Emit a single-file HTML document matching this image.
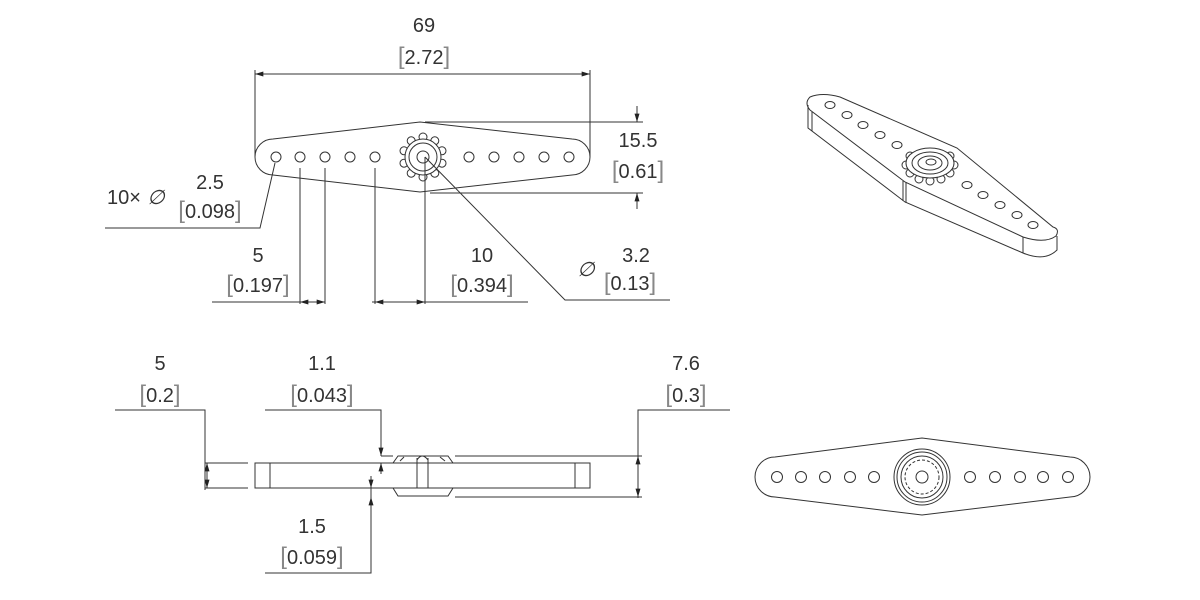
<!DOCTYPE html>
<html><head><meta charset="utf-8"><style>
html,body{margin:0;padding:0;background:#fff;}
svg{display:block;}
text{font-family:"Liberation Sans",sans-serif;font-size:20px;fill:#333;text-anchor:middle;}
.b{fill:#888;font-weight:300;font-size:24px;}
</style></head><body>
<svg width="1200" height="600" viewBox="0 0 1200 600" xmlns="http://www.w3.org/2000/svg">
<defs>
<marker id="a" viewBox="0 0 10 6" refX="10" refY="3" markerWidth="9" markerHeight="5" orient="auto-start-reverse" markerUnits="userSpaceOnUse"><path d="M0,0 L10,3 L0,6z" fill="#222"/></marker>
</defs>
<g stroke="#333" stroke-width="1" fill="none">
<!-- TOP VIEW -->
<path d="M273,139 L420,122 L572,139 A18,18 0 0 1 572,175 L420,192 L273,175 A18,18 0 0 1 273,139Z"/>
<g>
<circle cx="276" cy="157" r="5"/><circle cx="300" cy="157" r="5"/><circle cx="325" cy="157" r="5"/><circle cx="350" cy="157" r="5"/><circle cx="375" cy="157" r="5"/>
<circle cx="469" cy="157" r="5"/><circle cx="494" cy="157" r="5"/><circle cx="519" cy="157" r="5"/><circle cx="544" cy="157" r="5"/><circle cx="569" cy="157" r="5"/>
</g>
<g transform="translate(423,157)" fill="#fff">
<circle cx="0" cy="-20" r="4"/><circle cx="11.8" cy="-16.2" r="4"/><circle cx="19" cy="-6.2" r="4"/><circle cx="19" cy="6.2" r="4"/><circle cx="11.8" cy="16.2" r="4"/><circle cx="0" cy="20" r="4"/><circle cx="-11.8" cy="16.2" r="4"/><circle cx="-19" cy="6.2" r="4"/><circle cx="-19" cy="-6.2" r="4"/><circle cx="-11.8" cy="-16.2" r="4"/>
<circle r="18"/><circle r="14"/><circle r="6"/>
</g>
<!-- 69 dim -->
<line x1="255" y1="70" x2="255" y2="157"/><line x1="590" y1="70" x2="590" y2="157"/>
<line x1="255" y1="74" x2="590" y2="74" marker-start="url(#a)" marker-end="url(#a)"/>
<!-- 15.5 -->
<line x1="425" y1="122" x2="643" y2="122"/><line x1="430" y1="193" x2="643" y2="193"/>
<line x1="637" y1="106" x2="637" y2="122" marker-end="url(#a)"/>
<line x1="637" y1="209" x2="637" y2="193" marker-end="url(#a)"/>
<!-- 10x dia leader -->
<polyline points="105,228 260,228 275,163"/>
<!-- 5 -->
<line x1="300" y1="168" x2="300" y2="304"/><line x1="325" y1="168" x2="325" y2="304"/>
<line x1="212" y1="302" x2="300" y2="302"/>
<line x1="300" y1="302" x2="325" y2="302" marker-start="url(#a)" marker-end="url(#a)"/>
<!-- 10 -->
<line x1="375" y1="168" x2="375" y2="304"/><line x1="425" y1="157" x2="425" y2="304"/>
<line x1="372" y1="302" x2="528" y2="302"/>
<line x1="375" y1="302" x2="425" y2="302" marker-start="url(#a)" marker-end="url(#a)"/>
<!-- 3.2 -->
<polyline points="425,157 565,300 670,300"/>

<!-- SIDE VIEW -->
<rect x="255" y="463" width="335" height="25"/>
<line x1="270" y1="463" x2="270" y2="488"/><line x1="575" y1="463" x2="575" y2="488"/>
<path d="M393,463 L398,456 L448,456 L453,463"/>
<path d="M393,488 L398,496 L448,496 L453,488"/>
<line x1="417" y1="458" x2="417" y2="488"/><line x1="428" y1="458" x2="428" y2="488"/>
<path d="M417,460 Q422,452 428,460"/>
<line x1="400" y1="461" x2="404" y2="457"/><line x1="440" y1="457" x2="445" y2="461"/>
<!-- 5 (0.2) -->
<polyline points="115,410 205,410 205,490"/>
<line x1="205" y1="463" x2="248" y2="463"/><line x1="205" y1="488" x2="248" y2="488"/>
<line x1="207" y1="476" x2="207" y2="463" marker-end="url(#a)"/>
<line x1="207" y1="476" x2="207" y2="488" marker-end="url(#a)"/>
<!-- 1.1 -->
<polyline points="265,410 381,410 381,456"/>
<line x1="381" y1="456" x2="393" y2="456"/>
<line x1="381" y1="446" x2="381" y2="456" marker-end="url(#a)"/>
<line x1="381" y1="474" x2="381" y2="463" marker-end="url(#a)"/>
<!-- 7.6 -->
<polyline points="730,410 638,410 638,498"/>
<line x1="455" y1="456" x2="642" y2="456"/><line x1="455" y1="497" x2="642" y2="497"/>
<line x1="638" y1="476" x2="638" y2="456" marker-end="url(#a)"/>
<line x1="638" y1="476" x2="638" y2="497" marker-end="url(#a)"/>
<!-- 1.5 -->
<polyline points="265,573 371,573 371,476"/>
<line x1="371" y1="478" x2="371" y2="488" marker-end="url(#a)"/>
<line x1="371" y1="506" x2="371" y2="497" marker-end="url(#a)"/>

<!-- ISO VIEW -->
<!-- top face -->
<path d="M840,97 Q822,92 810,97 Q804,103 810,110 L905,182 L1023,237 Q1045,244 1056,236 Q1060,229 1053,227 L957,148 L840,97Z"/>
<!-- side faces -->
<path d="M808,105 L808,128 L905,202 L1023,253 Q1045,262 1057,250 L1057,236"/>
<line x1="812" y1="112" x2="812" y2="131"/>
<line x1="903" y1="181" x2="903" y2="201"/><line x1="906" y1="182" x2="906" y2="203"/>
<line x1="1023" y1="237" x2="1023" y2="253"/>
<g>
<ellipse cx="830" cy="105" rx="5" ry="3.5"/><ellipse cx="847" cy="115" rx="5" ry="3.5"/><ellipse cx="863" cy="125" rx="5" ry="3.5"/><ellipse cx="880" cy="135" rx="5" ry="3.5"/><ellipse cx="897" cy="145" rx="5" ry="3.5"/>
<ellipse cx="967" cy="185" rx="5" ry="3.5"/><ellipse cx="983" cy="195" rx="5" ry="3.5"/><ellipse cx="1000" cy="205" rx="5" ry="3.5"/><ellipse cx="1017" cy="215" rx="5" ry="3.5"/><ellipse cx="1033" cy="225" rx="5" ry="3.5"/>
</g>
<g transform="translate(930,163)" fill="#fff">
<ellipse cx="-24" cy="2" rx="4" ry="4"/><ellipse cx="-20" cy="10" rx="4" ry="4"/><ellipse cx="-11" cy="16" rx="4" ry="4"/><ellipse cx="0" cy="18" rx="4" ry="4"/><ellipse cx="11" cy="16" rx="4" ry="4"/><ellipse cx="20" cy="10" rx="4" ry="4"/><ellipse cx="24" cy="2" rx="4" ry="4"/><ellipse cx="20" cy="-7" rx="4" ry="4"/><ellipse cx="-20" cy="-7" rx="4" ry="4"/>
<ellipse rx="24" ry="15"/>
<ellipse rx="18" ry="11"/><ellipse rx="12" ry="7"/><ellipse cx="1" cy="-1" rx="5" ry="3"/>
</g>

<!-- BOTTOM RIGHT VIEW -->
<path d="M775,457 L922,438 L1070,457 A20,20 0 0 1 1070,497 L922,515 L775,497 A20,20 0 0 1 775,457Z"/>
<g>
<circle cx="777" cy="477" r="5.5"/><circle cx="801" cy="477" r="5.5"/><circle cx="825" cy="477" r="5.5"/><circle cx="850" cy="477" r="5.5"/><circle cx="874" cy="477" r="5.5"/>
<circle cx="970" cy="477" r="5.5"/><circle cx="995" cy="477" r="5.5"/><circle cx="1020" cy="477" r="5.5"/><circle cx="1043" cy="477" r="5.5"/><circle cx="1068" cy="477" r="5.5"/>
</g>
<circle cx="922" cy="477" r="28"/><circle cx="922" cy="477" r="25"/><circle cx="922" cy="477" r="21"/>
<circle cx="922" cy="477" r="17" stroke-dasharray="3 2"/><circle cx="922" cy="477" r="6"/>
</g>

<!-- TEXT -->
<text x="424" y="32">69</text>
<text x="424" y="64"><tspan class="b">[</tspan>2.72<tspan class="b">]</tspan></text>
<text x="638" y="147">15.5</text>
<text x="638" y="178"><tspan class="b">[</tspan>0.61<tspan class="b">]</tspan></text>
<text x="124" y="204">10×</text>
<text x="156" y="204" style="font-style:italic">∅</text>
<text x="210" y="189">2.5</text>
<text x="210" y="218"><tspan class="b">[</tspan>0.098<tspan class="b">]</tspan></text>
<text x="258" y="262">5</text>
<text x="258" y="292"><tspan class="b">[</tspan>0.197<tspan class="b">]</tspan></text>
<text x="482" y="262">10</text>
<text x="482" y="292"><tspan class="b">[</tspan>0.394<tspan class="b">]</tspan></text>
<text x="586" y="276" style="font-style:italic">∅</text>
<text x="636" y="262">3.2</text>
<text x="630" y="290"><tspan class="b">[</tspan>0.13<tspan class="b">]</tspan></text>
<text x="160" y="370">5</text>
<text x="160" y="402"><tspan class="b">[</tspan>0.2<tspan class="b">]</tspan></text>
<text x="322" y="370">1.1</text>
<text x="322" y="402"><tspan class="b">[</tspan>0.043<tspan class="b">]</tspan></text>
<text x="686" y="370">7.6</text>
<text x="686" y="402"><tspan class="b">[</tspan>0.3<tspan class="b">]</tspan></text>
<text x="312" y="533">1.5</text>
<text x="312" y="564"><tspan class="b">[</tspan>0.059<tspan class="b">]</tspan></text>
</svg>
</body></html>
